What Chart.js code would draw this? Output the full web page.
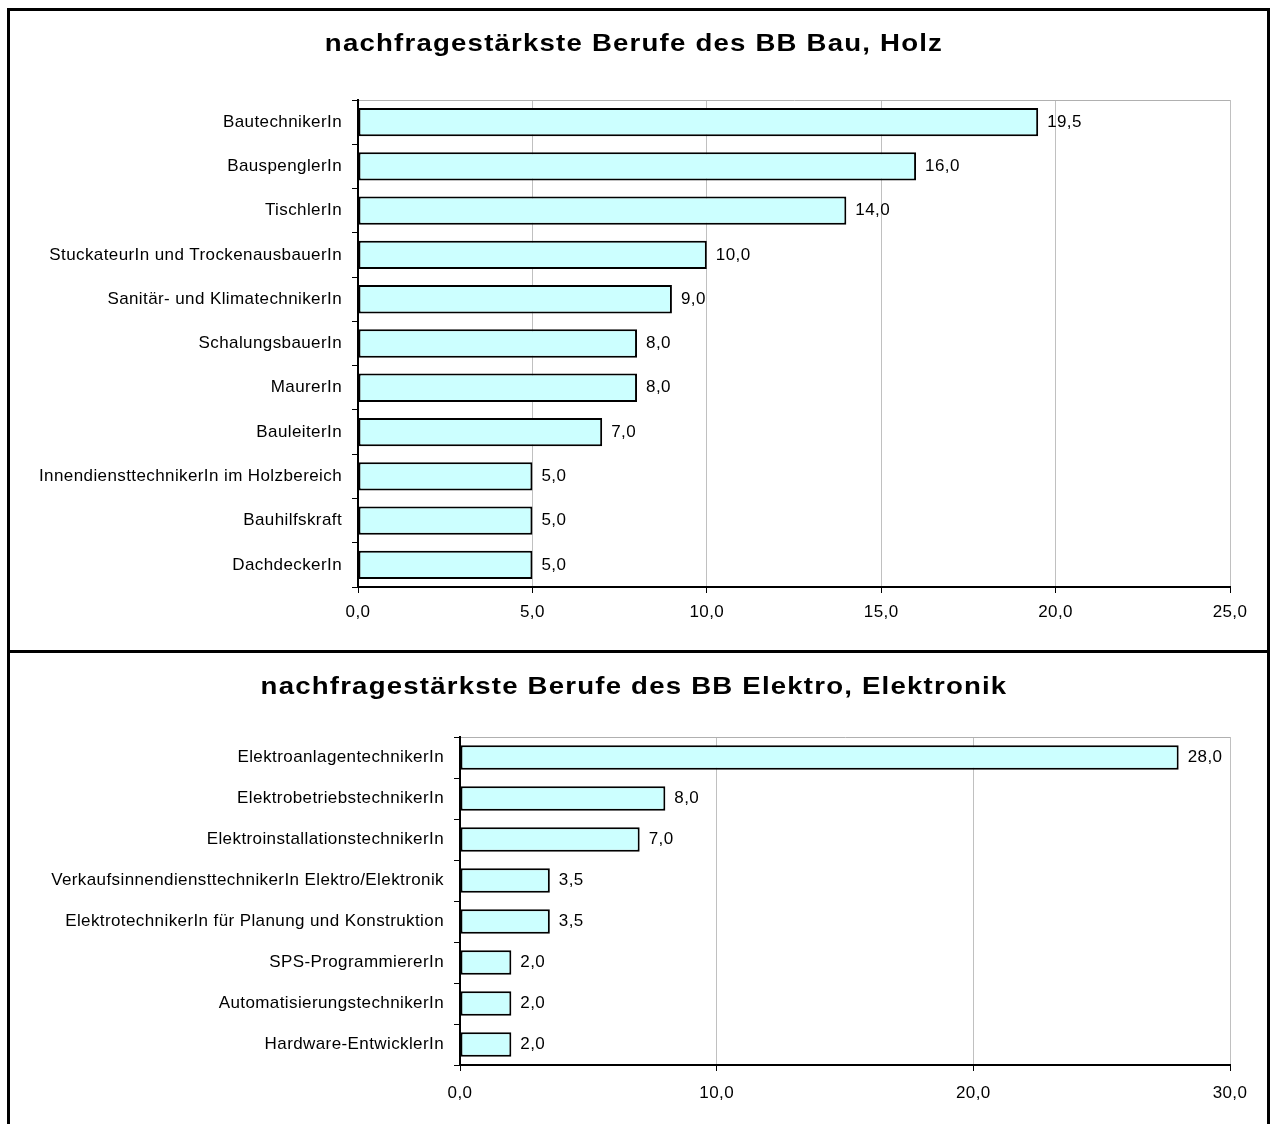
<!DOCTYPE html>
<html lang="de">
<head>
<meta charset="utf-8">
<title>nachfragestärkste Berufe</title>
<script src="https://cdn.jsdelivr.net/npm/chart.js@4.4.1/dist/chart.umd.min.js"></script>
<style>
  html, body { margin: 0; padding: 0; background: #fff; }
  #page { position: relative; width: 1270px; height: 1124px; overflow: hidden; }
  #page canvas { position: absolute; left: 0; }
  #frame {
    position: absolute; left: 7px; top: 8px; width: 1257px; height: 1140px;
    border: 3px solid #000; pointer-events: none;
  }
  #divider { position: absolute; left: 7px; top: 650px; width: 1263px; height: 3px; background: #000; }
  .title {
    position: absolute; left: 0; width: 1270px; text-align: center;
    font: bold 23px "Liberation Sans", Arial, sans-serif; line-height: 23px;
    letter-spacing: 1px; color: #000;
    transform: scaleX(1.2); transform-origin: 640px 0;
  }
</style>
</head>
<body>
<div id="page">
  <canvas id="bau" width="1270" height="650" style="top:0"></canvas>
  <canvas id="elektro" width="1270" height="471" style="top:653px"></canvas>
  <div class="title" style="top:32px">nachfragestärkste Berufe des BB Bau, Holz</div>
  <div class="title" style="top:675px">nachfragestärkste Berufe des BB Elektro, Elektronik</div>
  <div id="frame"></div>
  <div id="divider"></div>
</div>
<script>
  "use strict";

  const bauLabels = [
    "BautechnikerIn",
    "BauspenglerIn",
    "TischlerIn",
    "StuckateurIn und TrockenausbauerIn",
    "Sanitär- und KlimatechnikerIn",
    "SchalungsbauerIn",
    "MaurerIn",
    "BauleiterIn",
    "InnendiensttechnikerIn im Holzbereich",
    "Bauhilfskraft",
    "DachdeckerIn"
  ];
  const bauValues = [19.5, 16.0, 14.0, 10.0, 9.0, 8.0, 8.0, 7.0, 5.0, 5.0, 5.0];
  const bauAxis = { max: 25, step: 5 };

  const elektroLabels = [
    "ElektroanlagentechnikerIn",
    "ElektrobetriebstechnikerIn",
    "ElektroinstallationstechnikerIn",
    "VerkaufsinnendiensttechnikerIn Elektro/Elektronik",
    "ElektrotechnikerIn für Planung und Konstruktion",
    "SPS-ProgrammiererIn",
    "AutomatisierungstechnikerIn",
    "Hardware-EntwicklerIn"
  ];
  const elektroValues = [28.0, 8.0, 7.0, 3.5, 3.5, 2.0, 2.0, 2.0];
  const elektroAxis = { max: 30, step: 10 };

  const FONT = "'Liberation Sans', Arial, sans-serif";
  const fmt = (v) => Number(v).toFixed(1).replace(".", ",");

  // Excel renders text a little wider; emulate with letter spacing
  const spacingPlugin = {
    id: "spacing",
    beforeDraw(chart) {
      chart.ctx.letterSpacing = "0.4px";
    }
  };

  const valueLabels = {
    id: "valueLabels",
    afterDatasetsDraw(chart) {
      const ctx = chart.ctx;
      const meta = chart.getDatasetMeta(0);
      ctx.save();
      ctx.font = "17px " + FONT;
      ctx.fillStyle = "#000";
      ctx.textAlign = "left";
      ctx.textBaseline = "middle";
      meta.data.forEach((bar, i) => {
        ctx.fillText(fmt(chart.data.datasets[0].data[i]), bar.x + 9, bar.y);
      });
      ctx.restore();
    }
  };

  function createBarChart(id, labels, values, axis, box) {
    const canvas = document.getElementById(id);
    return new Chart(canvas, {
      type: "bar",
      data: {
        labels,
        datasets: [{
          data: values,
          backgroundColor: "#ccffff",
          borderColor: "#000",
          borderWidth: 2,
          borderSkipped: false,
          categoryPercentage: 1,
          barPercentage: box.bar
        }]
      },
      options: {
        indexAxis: "y",
        responsive: false,
        animation: false,
        devicePixelRatio: 1,
        layout: { padding: { top: box.top, right: 40, left: 0, bottom: 0 } },
        plugins: {
          legend: { display: false },
          tooltip: { enabled: false }
        },
        scales: {
          x: {
            min: 0,
            max: axis.max,
            afterFit: (scale) => { scale.height = box.xHeight; },
            ticks: {
              stepSize: axis.step,
              color: "#000",
              padding: box.xPad,
              font: { family: FONT, size: 17 },
              callback: (v) => fmt(v)
            },
            grid: {
              color: "#c0c0c0",
              lineWidth: 1,
              tickColor: "#000",
              tickLength: 6
            },
            border: { color: "#000", width: 2 }
          },
          y: {
            afterFit: (scale) => { scale.width = box.left; },
            ticks: {
              color: "#000",
              padding: 10,
              autoSkip: false,
              font: { family: FONT, size: 17 }
            },
            grid: {
              color: (c) => (c.index === 0 ? "#b0b0b0" : "rgba(0,0,0,0)"),
              tickColor: "#000",
              tickLength: 6
            },
            border: { color: "#000", width: 2 }
          }
        }
      },
      plugins: [spacingPlugin, valueLabels]
    });
  }

  createBarChart("bau", bauLabels, bauValues, bauAxis,
    { top: 100, left: 358, xHeight: 63, xPad: 9, bar: 0.64 });
  createBarChart("elektro", elektroLabels, elektroValues, elektroAxis,
    { top: 84, left: 460, xHeight: 59, xPad: 12, bar: 0.6 });
</script>
</body>
</html>
